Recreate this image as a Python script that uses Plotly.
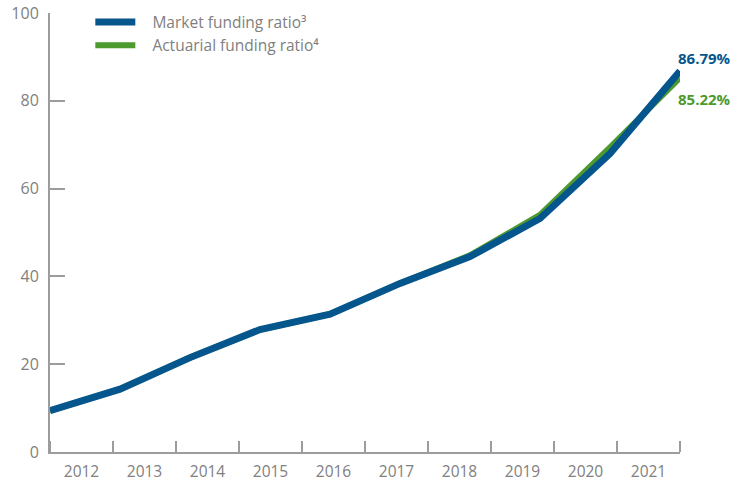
import plotly.graph_objects as go

years = [2012, 2013, 2014, 2015, 2016, 2017, 2018, 2019, 2020, 2021]
market = [9.4, 14.3, 21.5, 27.9, 31.4, 38.4, 44.5, 53.2, 68.0, 86.79]
actuarial = [9.4, 14.3, 21.5, 27.9, 31.4, 38.4, 44.8, 54.0, 69.4, 85.22]
year_labels = [str(y) for y in years]
y_ticks = [0, 20, 40, 60, 80, 100]

BLUE = "#06568E"
GREEN = "#4D9A2E"
GRAY_TXT = "#808080"
AXIS = "#9c9c9c"
FONT = "Open Sans"
NB = "\u00a0\u00a0\u00a0"

fig = go.Figure()
fig.add_trace(go.Scatter(x=years, y=actuarial, mode="lines", name=NB + "Actuarial funding ratio⁴",
                         line=dict(color=GREEN, width=6), legendrank=2))
fig.add_trace(go.Scatter(x=years, y=market, mode="lines", name=NB + "Market funding ratio³",
                         line=dict(color=BLUE, width=7), legendrank=1))

n = len(years)
step = (years[-1] - years[0]) / n
boundaries = [years[0] + step * k for k in range(n + 1)]
mids = [years[0] + step * (k + 0.5) for k in range(n)]

fig.update_xaxes(range=[years[0], years[-1]], tickvals=mids, ticktext=year_labels, ticks="",
                 showline=True, linecolor=AXIS, linewidth=2, showgrid=False, zeroline=False,
                 automargin=False,
                 tickfont=dict(family=FONT, size=15.5, color=GRAY_TXT), ticklabelstandoff=4,
                 minor=dict(tickvals=boundaries, ticks="inside", ticklen=11, tickcolor=AXIS, tickwidth=2, showgrid=False))
fig.update_yaxes(range=[0, 100], tickvals=y_ticks, ticks="inside", ticklen=15, tickcolor=AXIS, tickwidth=2,
                 showline=True, linecolor=AXIS, linewidth=2, showgrid=False, zeroline=False,
                 automargin=False,
                 tickfont=dict(family=FONT, size=16, color=GRAY_TXT), ticklabelstandoff=6)

fig.add_annotation(x=years[-1], y=market[-1], text="<b>%.2f%%</b>" % market[-1], showarrow=False,
                   xanchor="left", yanchor="middle", xshift=-4, yshift=13,
                   font=dict(family=FONT, size=15, color=BLUE))
fig.add_annotation(x=years[-1], y=actuarial[-1], text="<b>%.2f%%</b>" % actuarial[-1], showarrow=False,
                   xanchor="left", yanchor="middle", xshift=-4, yshift=-21,
                   font=dict(family=FONT, size=15, color=GREEN))

fig.update_layout(
    width=751, height=481,
    margin=dict(l=50, r=71, t=13, b=29, autoexpand=False),
    plot_bgcolor="white", paper_bgcolor="white",
    showlegend=True,
    legend=dict(x=0.064, y=1.017, xanchor="left", yanchor="top", bgcolor="rgba(0,0,0,0)",
                font=dict(family=FONT, size=15.5, color=GRAY_TXT), itemwidth=40),
)

fig.write_html("out.html")
